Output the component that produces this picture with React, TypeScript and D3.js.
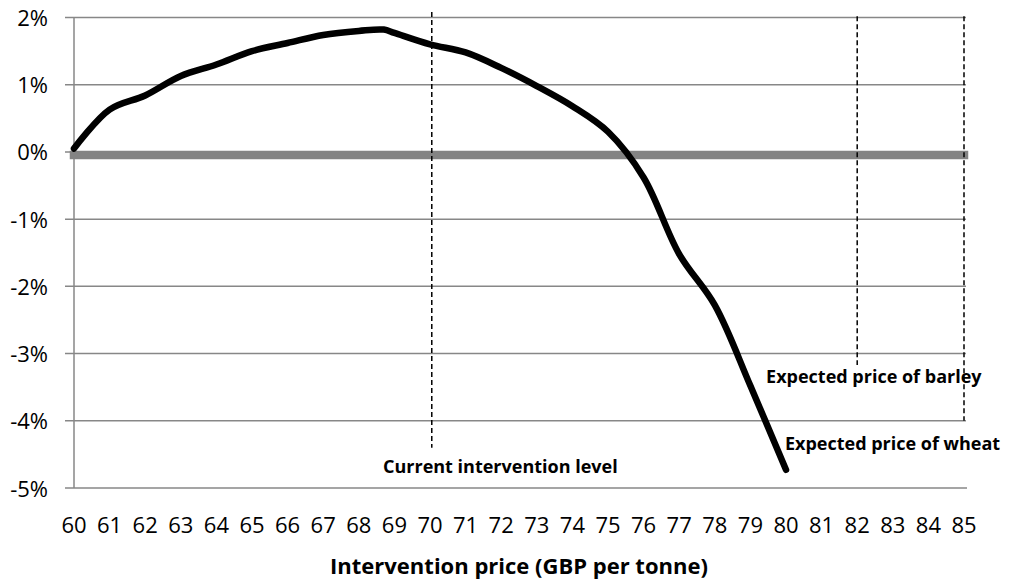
import React from "react";
import * as d3 from "d3";

const prices = [60, 61, 62, 63, 64, 65, 66, 67, 68, 68.7, 69, 70, 71, 72, 73, 74, 75, 76, 77, 78, 79, 80];
const changePct = [0.05, 0.63, 0.84, 1.13, 1.3, 1.5, 1.62, 1.74, 1.8, 1.82, 1.77, 1.6, 1.48, 1.25, 0.98, 0.68, 0.3, -0.38, -1.52, -2.28, -3.48, -4.73];
const xTicks = d3.range(60, 86);
const yTicks = [2, 1, 0, -1, -2, -3, -4, -5];
const baselineX = [60, 85];
const baselineY = [-0.045, -0.045];
const markerNames = ["Current intervention level", "Expected price of barley", "Expected price of wheat"];
const markerX = [70.05, 82, 85];
const markerTop = [2.08, 2.02, 2.02];
const markerBottom = [-4.4, -3.17, -4.0];
const labelX = [68.68, 79.44, 79.97];
const labelY = [-4.78, -3.44, -4.43];
const xTitle = "Intervention price (GBP per tonne)";

const W = 1010;
const H = 579;
const x = d3.scaleLinear().domain([60, 85]).range([74, 964]);
const y = d3.scaleLinear().domain([-5, 2]).range([488, 17.5]);

export default function App() {
  const pts = prices.map((p, i) => [p, changePct[i]] as [number, number]);
  const smooth = d3
    .line<[number, number]>()
    .x((d) => x(d[0]))
    .y((d) => y(d[1]))
    .curve(d3.curveCatmullRom.alpha(0.5));
  const straight = d3
    .line<[number, number]>()
    .x((d) => x(d[0]))
    .y((d) => y(d[1]));
  const base = baselineX.map((v, i) => [v, baselineY[i]] as [number, number]);
  const font = "'Open Sans', sans-serif";
  return (
    <svg
      width={W}
      height={H}
      style={{ position: "absolute", left: 0, top: 0, background: "#fff" }}
      fontFamily={font}
    >
      {yTicks.map((t) => (
        <line
          key={"g" + t}
          x1={x(60) - 9}
          x2={t === -5 ? x(85) + 3 : x(85) + 2}
          y1={y(t)}
          y2={y(t)}
          stroke="#878787"
          strokeWidth={1.5}
        />
      ))}
      <line x1={x(60)} x2={x(60)} y1={y(2)} y2={y(-5)} stroke="#878787" strokeWidth={1.5} />
      <path d={straight(base) || ""} stroke="#838383" strokeWidth={8.5} fill="none" strokeLinecap="square" />
      {yTicks.map((t) => (
        <text key={"yl" + t} x={48} y={y(t) + 8.5} textAnchor="end" fontSize={22} fill="#000">
          {t + "%"}
        </text>
      ))}
      {xTicks.map((t) => (
        <text key={"xl" + t} x={x(t)} y={533} textAnchor="middle" fontSize={22} fill="#000">
          {t}
        </text>
      ))}
      {markerX.map((mx, i) => (
        <line
          key={"m" + i}
          x1={x(mx)}
          x2={x(mx)}
          y1={y(markerTop[i])}
          y2={y(markerBottom[i])}
          stroke="#000"
          strokeWidth={1.5}
          strokeDasharray="5,3"
        />
      ))}
      <path d={smooth(pts) || ""} stroke="#000" strokeWidth={6.5} fill="none" strokeLinecap="round" strokeLinejoin="round" />
      {markerNames.map((n, i) => (
        <text key={"ml" + i} x={x(labelX[i])} y={y(labelY[i])} fontSize={18} fontWeight="bold" fill="#000">
          {n}
        </text>
      ))}
      <text x={(x(60) + x(85)) / 2} y={574} textAnchor="middle" fontSize={22} fontWeight="bold" fill="#000">
        {xTitle}
      </text>
    </svg>
  );
}
